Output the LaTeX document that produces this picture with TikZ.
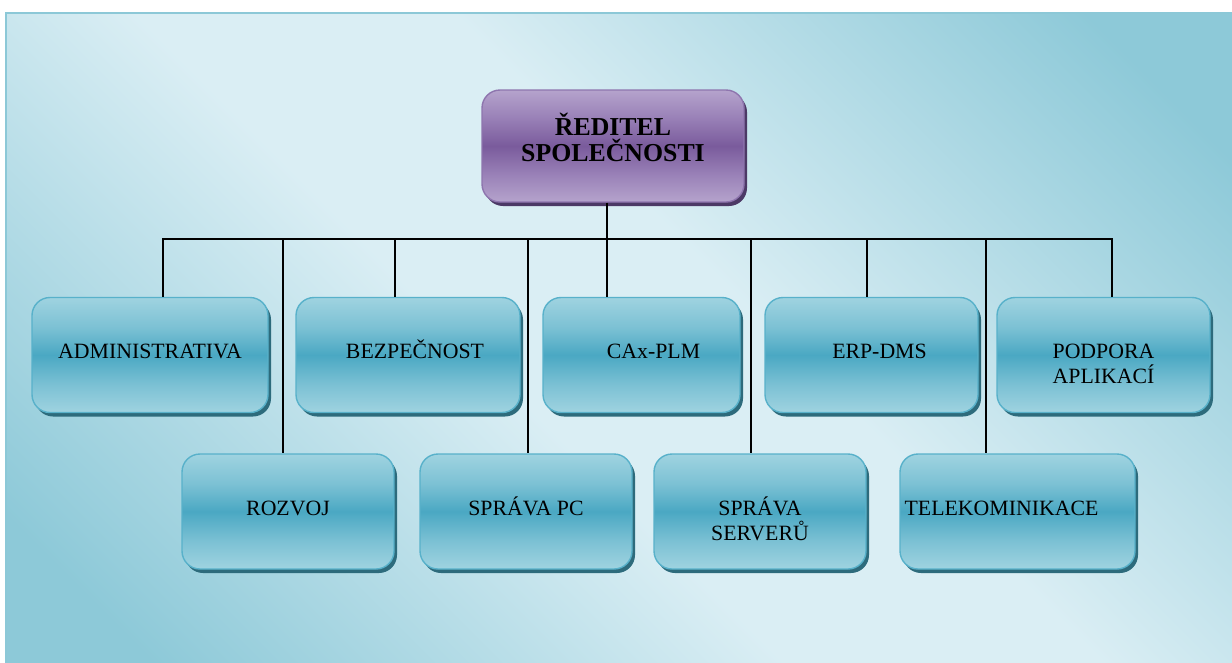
\documentclass[tikz,border=0pt]{standalone}
\usepackage{fontspec}
\setmainfont{Liberation Serif}
\usetikzlibrary{shadows}

% palette
\definecolor{bglight}{HTML}{DAEEF4}
\definecolor{bgdark}{HTML}{8DC9D8}
\definecolor{bgedge}{HTML}{8CC8D7}
\definecolor{uhi}{HTML}{9FD3E0}
\definecolor{umid}{HTML}{7CC1D4}
\definecolor{ulo}{HTML}{4AA8C3}
\definecolor{uedge}{HTML}{58B1CA}
\definecolor{ushadow}{HTML}{2D6B7C}
\definecolor{phi}{HTML}{B5A3CC}
\definecolor{pmid}{HTML}{9A82B8}
\definecolor{plo}{HTML}{7A5B9C}
\definecolor{pedge}{HTML}{8E75AE}
\definecolor{pshadow}{HTML}{4C3966}

% shadings
\pgfdeclareverticalshading{bgshade}{100bp}{color(0bp)=(bgdark); color(20bp)=(bgdark); color(44bp)=(bglight); color(56bp)=(bglight); color(80bp)=(bgdark); color(100bp)=(bgdark)}
\pgfdeclareverticalshading{unitshade}{100bp}{color(0bp)=(uhi); color(25bp)=(uhi); color(37bp)=(umid); color(50bp)=(ulo); color(62bp)=(umid); color(75bp)=(uhi); color(100bp)=(uhi)}
\pgfdeclareverticalshading{ceoshade}{100bp}{color(0bp)=(phi); color(25bp)=(phi); color(37bp)=(pmid); color(50bp)=(plo); color(63bp)=(pmid); color(75bp)=(phi); color(100bp)=(phi)}

% text block pinned to the top of a box:
% [#1 sideways shift of the first line] #2 box height, #3 first baseline, #4 text
\newcommand\boxtext[4][0pt]{\parbox[c][#2][t]{196pt}{\hyphenpenalty=10000 \centering\rule{0pt}{#3}\hspace*{#1}\hspace*{#1}#4}}

\begin{document}
\begin{tikzpicture}[x=1pt,y=-1pt,
  unit/.style={rectangle, rounded corners=18pt, draw=uedge, line width=1.4pt,
    shading=unitshade, inner sep=0pt, minimum height=115pt,
    drop shadow={shadow xshift=3pt, shadow yshift=-4pt, fill=ushadow, opacity=1},
    font=\fontsize{21.8}{25}\selectfont},
  head/.style={rectangle, rounded corners=18pt, draw=pedge, line width=1.4pt,
    shading=ceoshade, inner sep=0pt, minimum height=112pt,
    drop shadow={shadow xshift=3pt, shadow yshift=-4pt, fill=pshadow, opacity=1},
    font=\fontsize{25.8}{26}\selectfont\bfseries},
  link/.style={draw=black, line width=1.3pt}]

\useasboundingbox (0,0) rectangle (1232,662);

% backdrop
\shade[shading=bgshade, shading angle=-45] (5,12) rectangle (1232,662);
\draw[bgedge, line width=2pt] (6,662) -- (6,13) -- (1232,13);

% boxes
\node[head, minimum width=262pt] (ceo) at (613,146) {\boxtext{112pt}{45pt}{ŘEDITEL\\SPOLEČNOSTI}};

\node[unit, minimum width=236pt] (adm) at (150,355) {\boxtext{115pt}{61pt}{ADMINISTRATIVA}};
\node[unit, minimum width=224pt] (bez) at (408,355) {\boxtext[7pt]{115pt}{61pt}{BEZPEČNOST}};
\node[unit, minimum width=197pt] (cax) at (641.5,355) {\boxtext[12pt]{115pt}{61pt}{CAx-PLM}};
\node[unit, minimum width=213pt] (erp) at (871.5,355) {\boxtext[8pt]{115pt}{61pt}{ERP-DMS}};
\node[unit, minimum width=213pt] (pod) at (1103.5,355) {\boxtext{115pt}{61pt}{PODPORA\\APLIKACÍ}};

\node[unit, minimum width=212pt] (roz) at (288,511.5) {\boxtext{115pt}{61.5pt}{ROZVOJ}};
\node[unit, minimum width=212pt] (spc) at (526,511.5) {\boxtext{115pt}{61.5pt}{SPRÁVA PC}};
\node[unit, minimum width=212pt] (ssv) at (760,511.5) {\boxtext{115pt}{61.5pt}{SPRÁVA\\SERVERŮ}};
\node[unit, minimum width=235pt] (tel) at (1017.5,511.5) {\boxtext[-16pt]{115pt}{61.5pt}{TELEKOMINIKACE}};

% connectors
\coordinate (hub) at (607,239);
\draw[link] (ceo.south -| hub) -- (hub);
\draw[link] (hub) -| ([xshift=13pt]adm.north);
\draw[link] (hub) -| ([xshift=-5pt]roz.north);
\draw[link] (hub) -| ([xshift=-13pt]bez.north);
\draw[link] (hub) -| ([xshift=2pt]spc.north);
\draw[link] (hub) -| ([xshift=-34.5pt]cax.north);
\draw[link] (hub) -| ([xshift=-9pt]ssv.north);
\draw[link] (hub) -| ([xshift=-4.5pt]erp.north);
\draw[link] (hub) -| ([xshift=-31.5pt]tel.north);
\draw[link] (hub) -| ([xshift=8.5pt]pod.north);
\end{tikzpicture}
\end{document}
